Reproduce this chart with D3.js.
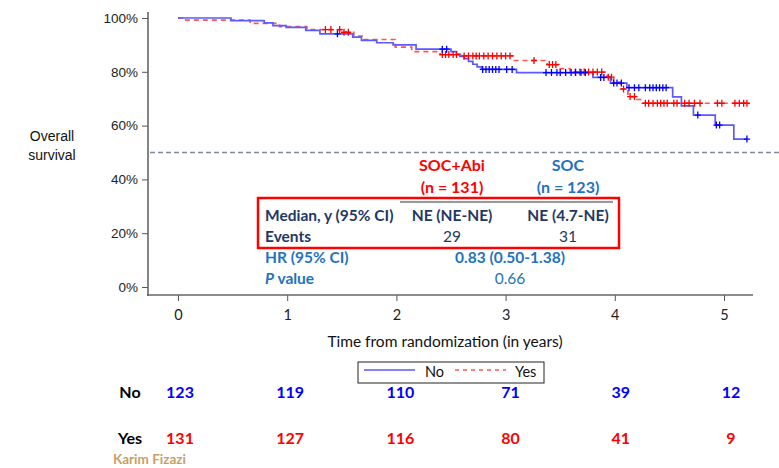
<!DOCTYPE html>
<html>
<head>
<meta charset="utf-8">
<script src="https://cdn.jsdelivr.net/npm/d3@7"></script>
<style>
  body { margin: 0; background: #fff; }
  text { font-family: Lato, "Open Sans", sans-serif; }
</style>
</head>
<body>
<svg id="km" width="779" height="468"></svg>
<script>
// ---- data ----
var timeTicks = [0, 1, 2, 3, 4, 5];
var survTicks = [0, 20, 40, 60, 80, 100];
var endTime = 5.21;

// SOC (No) - step times (years) and survival (%)
var noTimes = [0, 0.485, 0.79, 0.87, 0.99, 1.17, 1.30, 1.60, 1.68, 1.82, 1.97, 2.18,
               2.50, 2.55, 2.58, 2.62, 2.66, 2.70, 2.74, 2.78, 3.10, 3.80, 3.96, 4.11,
               4.53, 4.61, 4.72, 4.92, 5.09];
var noSurv  = [100, 99.0, 98.2, 97.2, 96.5, 95.4, 94.1, 92.9, 91.7, 90.8, 90.0, 88.4,
               87.5, 86.6, 85.7, 84.9, 83.9, 82.8, 81.8, 80.9, 79.7, 77.9, 75.8, 74.1,
               70.7, 67.3, 63.9, 60.2, 55.0];
var noCensor = [1.46, 2.42, 2.46, 2.79, 2.82, 2.85, 2.88, 2.91, 2.94, 3.01, 3.06,
                3.37, 3.42, 3.47, 3.50, 3.55, 3.60, 3.64, 3.69, 3.73, 3.87, 3.90,
                3.99, 4.02, 4.06, 4.13, 4.18, 4.22, 4.28, 4.32, 4.35, 4.38, 4.41, 4.44, 4.47,
                4.76, 4.93, 4.96, 5.21];

// SOC+Abi (Yes)
var yesTimes = [0, 0.06, 0.66, 0.93, 1.18, 1.51, 1.61, 1.70, 1.99, 2.14, 2.40, 2.60,
                3.08, 3.38, 3.49, 3.59, 3.93, 3.99, 4.05, 4.12, 4.20, 4.25];
var yesSurv  = [100, 99.2, 98.0, 96.8, 95.7, 94.7, 93.3, 92.0, 89.2, 87.5, 86.4, 85.9,
                84.2, 82.7, 81.2, 79.9, 78.0, 76.2, 73.6, 70.8, 69.7, 68.3];
var yesCensor = [1.35, 1.40, 1.48, 1.52, 1.56, 2.42, 2.45, 2.48, 2.52, 2.55,
                 2.62, 2.66, 2.70, 2.73, 2.76, 2.80, 2.84, 2.88, 2.92, 2.96, 3.00, 3.04,
                 3.26, 3.40, 3.43, 3.46, 3.64, 3.68, 3.72, 3.76, 3.80, 3.84, 3.88,
                 3.94, 3.97, 4.08, 4.14, 4.18, 4.28, 4.31, 4.35, 4.39, 4.42, 4.45, 4.48,
                 4.54, 4.57, 4.64, 4.68, 4.73, 4.78, 4.94, 4.98, 5.10, 5.14, 5.18, 5.21];

// numbers at risk
var riskNo  = [123, 119, 110, 71, 39, 12];
var riskYes = [131, 127, 116, 80, 41, 9];

// summary table
var armHeads = ["SOC+Abi", "SOC"];
var armNs = ["(n = 131)", "(n = 123)"];
var medianRow = ["Median, y (95% CI)", "NE (NE-NE)", "NE (4.7-NE)"];
var eventsRow = ["Events", "29", "31"];
var hrRow = ["HR (95% CI)", "0.83 (0.50-1.38)"];
var pRow = ["value", "0.66"];

var svg = d3.select("#km");

var x = d3.scaleLinear().domain([0, 5]).range([178, 724]),
    y = d3.scaleLinear().domain([0, 100]).range([287, 18]);

var blue = "#0000ff", red = "#ff0000", navy = "#1f3864", tblBlue = "#1e73be";

// y axis
var yAxis = svg.append("g")
    .attr("transform", "translate(148,0)")
    .call(d3.axisLeft(y).tickValues(survTicks).tickFormat(function(d) { return d + "%"; })
        .tickSize(6).tickSizeOuter(0).tickPadding(4));
yAxis.select(".domain").remove();
yAxis.selectAll("line").attr("stroke", "#555");
yAxis.selectAll("text").style("font-family", "'Liberation Sans', Arial, sans-serif")
    .style("font-size", "13.5px").attr("fill", "#222");
svg.append("line").attr("x1", 148).attr("x2", 148).attr("y1", 12).attr("y2", 296)
    .attr("stroke", "#666").attr("stroke-width", 1.6);

// x axis
var xAxis = svg.append("g")
    .attr("transform", "translate(0,295)")
    .call(d3.axisBottom(x).tickValues(timeTicks).tickFormat(d3.format("d"))
        .tickSize(6).tickSizeOuter(0).tickPadding(9));
xAxis.select(".domain").remove();
xAxis.selectAll("line").attr("stroke", "#555");
xAxis.selectAll("text").style("font-size", "14.5px").attr("fill", "#222");
svg.append("line").attr("x1", 147).attr("x2", 753).attr("y1", 295).attr("y2", 295)
    .attr("stroke", "#666").attr("stroke-width", 1.6);

svg.append("text").attr("x", 445).attr("y", 347).attr("text-anchor", "middle")
    .style("font-size", "15.5px").attr("fill", "#111")
    .text("Time from randomization (in years)");

svg.append("text").attr("x", 52).attr("y", 141).attr("text-anchor", "middle")
    .style("font-family", "'Liberation Sans', Arial, sans-serif").style("font-size", "14px")
    .attr("fill", "#111")
    .selectAll("tspan").data(["Overall", "survival"]).enter().append("tspan")
    .attr("x", 52).attr("dy", function(d, i) { return i ? 19 : 0; })
    .text(function(d) { return d; });

// median reference line
svg.append("line").attr("x1", 150).attr("x2", 779).attr("y1", y(50)).attr("y2", y(50))
    .attr("stroke", "#7d8ca3").attr("stroke-width", 1.5).attr("stroke-dasharray", "5,3");

// KM curves
function stepPoints(times, surv) {
    var pts = times.map(function(t, i) { return [t, surv[i]]; });
    pts.push([endTime, surv[surv.length - 1]]);
    return pts;
}
function survAt(times, surv, t) {
    var s = surv[0];
    for (var i = 0; i < times.length; i++) { if (times[i] <= t) s = surv[i]; }
    return s;
}
var line = d3.line()
    .x(function(d) { return x(d[0]); })
    .y(function(d) { return y(d[1]); })
    .curve(d3.curveStepAfter);

svg.append("path").datum(stepPoints(yesTimes, yesSurv))
    .attr("d", line).attr("fill", "none")
    .attr("stroke", "#ff5555").attr("stroke-width", 1.7).attr("stroke-dasharray", "5,4");
svg.append("path").datum(stepPoints(noTimes, noSurv))
    .attr("d", line).attr("fill", "none")
    .attr("stroke", "#5a5aff").attr("stroke-width", 1.7);

function censorMarks(cls, times, surv, cens, col) {
    svg.append("g").selectAll("path." + cls).data(cens).enter().append("path")
        .attr("class", cls)
        .attr("d", function(t) {
            var cx = x(t), cy = y(survAt(times, surv, t));
            return "M" + (cx - 3) + "," + cy + "H" + (cx + 3) + "M" + cx + "," + (cy - 3.5) + "V" + (cy + 3.5);
        })
        .attr("stroke", col).attr("stroke-width", 1.3).attr("fill", "none");
}
censorMarks("cy", yesTimes, yesSurv, yesCensor, red);
censorMarks("cn", noTimes, noSurv, noCensor, blue);

// summary table
var colX = [265, 452, 568];
var head = svg.append("g").style("font-weight", "bold").style("font-size", "16px");
head.selectAll("text.arm").data(armHeads).enter().append("text")
    .attr("x", function(d, i) { return colX[i + 1]; }).attr("y", 171)
    .attr("text-anchor", "middle").attr("fill", function(d, i) { return i ? tblBlue : red; })
    .text(function(d) { return d; });
head.selectAll("text.n").data(armNs).enter().append("text")
    .attr("x", function(d, i) { return colX[i + 1]; }).attr("y", 193)
    .attr("text-anchor", "middle").attr("fill", function(d, i) { return i ? tblBlue : red; })
    .text(function(d) { return d; });

svg.append("line").attr("x1", 400).attr("x2", 613).attr("y1", 202).attr("y2", 202)
    .attr("stroke", "#333").attr("stroke-width", 1.2);
svg.append("rect").attr("x", 258).attr("y", 198).attr("width", 361).attr("height", 50)
    .attr("fill", "none").attr("stroke", red).attr("stroke-width", 2.5);

var tbl = svg.append("g").style("font-size", "15.5px");
tbl.selectAll("text.med").data(medianRow).enter().append("text")
    .attr("x", function(d, i) { return colX[i]; }).attr("y", 221)
    .attr("text-anchor", function(d, i) { return i ? "middle" : "start"; })
    .style("font-weight", "bold").attr("fill", navy)
    .text(function(d) { return d; });
tbl.selectAll("text.ev").data(eventsRow).enter().append("text")
    .attr("x", function(d, i) { return colX[i]; }).attr("y", 242)
    .attr("text-anchor", function(d, i) { return i ? "middle" : "start"; })
    .style("font-weight", function(d, i) { return i ? "normal" : "bold"; }).attr("fill", navy)
    .text(function(d) { return d; });
tbl.selectAll("text.hr").data(hrRow).enter().append("text")
    .attr("x", function(d, i) { return i ? 510 : colX[0]; }).attr("y", 263)
    .attr("text-anchor", function(d, i) { return i ? "middle" : "start"; })
    .style("font-weight", "bold").attr("fill", tblBlue)
    .text(function(d) { return d; });
var pLab = tbl.append("text").attr("x", colX[0]).attr("y", 284)
    .style("font-weight", "bold").attr("fill", tblBlue);
pLab.append("tspan").style("font-style", "italic").text("P");
pLab.append("tspan").text(" " + pRow[0]);
tbl.append("text").attr("x", 510).attr("y", 284).attr("text-anchor", "middle")
    .attr("fill", tblBlue).text(pRow[1]);

// legend
var lg = svg.append("g").attr("transform", "translate(358,362)");
lg.append("rect").attr("width", 186).attr("height", 21).attr("fill", "#fff")
    .attr("stroke", "#222").attr("stroke-width", 1);
lg.append("line").attr("x1", 6).attr("x2", 57).attr("y1", 8).attr("y2", 8)
    .attr("stroke", "#5a5aff").attr("stroke-width", 1.5);
lg.append("text").attr("x", 67).attr("y", 15).style("font-size", "14.5px").attr("fill", "#111").text("No");
lg.append("line").attr("x1", 97).attr("x2", 148).attr("y1", 8).attr("y2", 8)
    .attr("stroke", "#ff5555").attr("stroke-width", 1.5).attr("stroke-dasharray", "4,4");
lg.append("text").attr("x", 157).attr("y", 15).style("font-size", "14.5px").attr("fill", "#111").text("Yes");

// numbers at risk
var rx = d3.scaleLinear().domain([0, 5]).range([180, 731]);
var risk = svg.append("g").style("font-weight", "bold").style("font-size", "16px");
risk.append("text").attr("x", 130).attr("y", 398).attr("text-anchor", "middle").attr("fill", "#000").text("No");
risk.append("text").attr("x", 130).attr("y", 444).attr("text-anchor", "middle").attr("fill", "#000").text("Yes");
risk.selectAll("text.rn").data(riskNo).enter().append("text")
    .attr("x", function(d, i) { return rx(timeTicks[i]); }).attr("y", 398)
    .attr("text-anchor", "middle").attr("fill", blue).text(function(d) { return d; });
risk.selectAll("text.ry").data(riskYes).enter().append("text")
    .attr("x", function(d, i) { return rx(timeTicks[i]); }).attr("y", 444)
    .attr("text-anchor", "middle").attr("fill", red).text(function(d) { return d; });

svg.append("text").attr("x", 113).attr("y", 464).style("font-weight", "bold")
    .style("font-size", "13.5px").attr("fill", "#c9a064").text("Karim Fizazi");
</script>
</body>
</html>
